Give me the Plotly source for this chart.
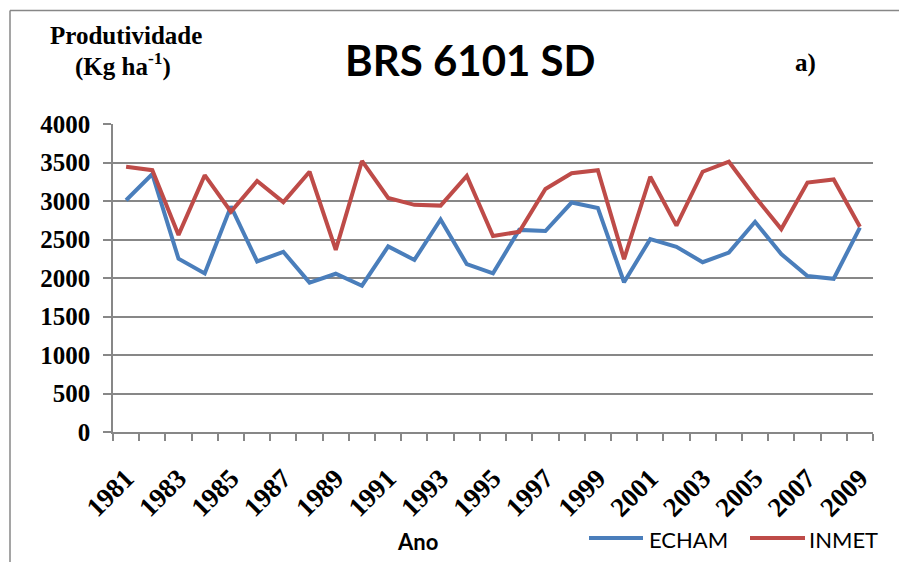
import plotly.graph_objects as go

years = list(range(1981, 2010))
echam = [3010, 3350, 2250, 2060, 2930, 2215, 2340, 1940, 2055, 1900,
         2410, 2235, 2760, 2180, 2060, 2625, 2610, 2980, 2910, 1945,
         2505, 2405, 2205, 2330, 2730, 2310, 2025, 1990, 2655]
inmet = [3445, 3400, 2560, 3335, 2860, 3260, 2985, 3380, 2365, 3520,
         3040, 2950, 2940, 3325, 2545, 2600, 3155, 3360, 3400, 2245,
         3315, 2680, 3380, 3510, 3055, 2635, 3240, 3280, 2665]
xtick_labels = [str(y) for y in range(1981, 2010, 2)]
ytick_vals = list(range(0, 4001, 500))

# page body has an 8px margin; work in screen pixels and shift
OFF = 8
W, H = 907, 562
PL, PR, PT, PB = 113, 873, 124, 432          # plot area in screen pixels
L, T = PL - OFF, PT - OFF
R = W - (PR - OFF)
B = H - (PB - OFF)
PW, PH = PR - PL, PB - PT

def px(x):
    return (x - PL) / PW

def py(y):
    return (PB - y) / PH

BLUE = "#4A7EBB"
RED = "#BE4B48"
GRAY = "#878787"
SERIF = "Liberation Serif, Times New Roman, serif"
SANS = "Lato, Carlito, Calibri, sans-serif"

fig = go.Figure()
fig.add_trace(go.Scatter(x=years, y=echam, name="ECHAM", mode="lines",
                         line=dict(color=BLUE, width=4), showlegend=False))
fig.add_trace(go.Scatter(x=years, y=inmet, name="INMET", mode="lines",
                         line=dict(color=RED, width=4), showlegend=False))

fig.update_layout(
    width=W, height=H,
    margin=dict(l=L, r=R, t=T, b=B, pad=0),
    paper_bgcolor="white", plot_bgcolor="white",
    showlegend=False,
    xaxis=dict(
        range=[1980.5, 2009.5],
        tickmode="array", tickvals=[int(v) for v in xtick_labels], ticktext=xtick_labels,
        tickangle=-45, ticks="", showgrid=False, zeroline=False,
        showline=True, linecolor=GRAY, linewidth=1.5,
        tickfont=dict(family=SERIF, size=27, color="black", weight="bold"),
        minor=dict(ticks="outside", tick0=0.5, dtick=1, ticklen=7,
                   tickcolor=GRAY, tickwidth=1.5, showgrid=False),
        ticklabelstandoff=18,
    ),
    yaxis=dict(
        range=[0, 4000], tickmode="array", tickvals=ytick_vals,
        showgrid=True, gridcolor=GRAY, gridwidth=1.5, zeroline=False,
        showline=True, linecolor=GRAY, linewidth=1.5,
        ticks="outside", ticklen=8, tickcolor=GRAY, tickwidth=1.5,
        tickfont=dict(family=SERIF, size=25, color="black", weight="bold"),
        ticklabelstandoff=8,
    ),
)

annots = [
    dict(text="<b>Produtividade</b>", x=px(126), y=py(35), font=dict(family=SERIF, size=25)),
    dict(text="<b>(Kg ha<sup>-1</sup>)</b>", x=px(123), y=py(64), font=dict(family=SERIF, size=25)),
    dict(text="<b>BRS 6101 SD</b>", x=px(470), y=py(60), font=dict(family=SANS, size=42)),
    dict(text="<b>a)</b>", x=px(805), y=py(63), font=dict(family=SERIF, size=25)),
    dict(text="<b>Ano</b>", x=px(417), y=py(541), font=dict(family=SANS, size=22)),
]
for a in annots:
    fig.add_annotation(xref="paper", yref="paper", xanchor="center", yanchor="middle",
                       showarrow=False, font_color="black", **a)

# legend drawn manually
for x0, x1, col, name, tx in [(589, 643, BLUE, "ECHAM", 647), (750, 805, RED, "INMET", 807)]:
    fig.add_shape(type="line", xref="paper", yref="paper", x0=px(x0), x1=px(x1),
                  y0=py(538), y1=py(538), line=dict(color=col, width=4))
    fig.add_annotation(xref="paper", yref="paper", x=px(tx), y=py(539), xanchor="left",
                       yanchor="middle", showarrow=False, text=name,
                       font=dict(family=SANS, size=22, color="black"))

# chart border (left and top visible)
fig.add_shape(type="line", xref="paper", yref="paper", x0=px(10), x1=px(10),
              y0=py(10.5), y1=py(580), line=dict(color=GRAY, width=1.5))
fig.add_shape(type="line", xref="paper", yref="paper", x0=px(10), x1=px(925),
              y0=py(10.5), y1=py(10.5), line=dict(color=GRAY, width=1.5))

fig.write_html("out.html")
